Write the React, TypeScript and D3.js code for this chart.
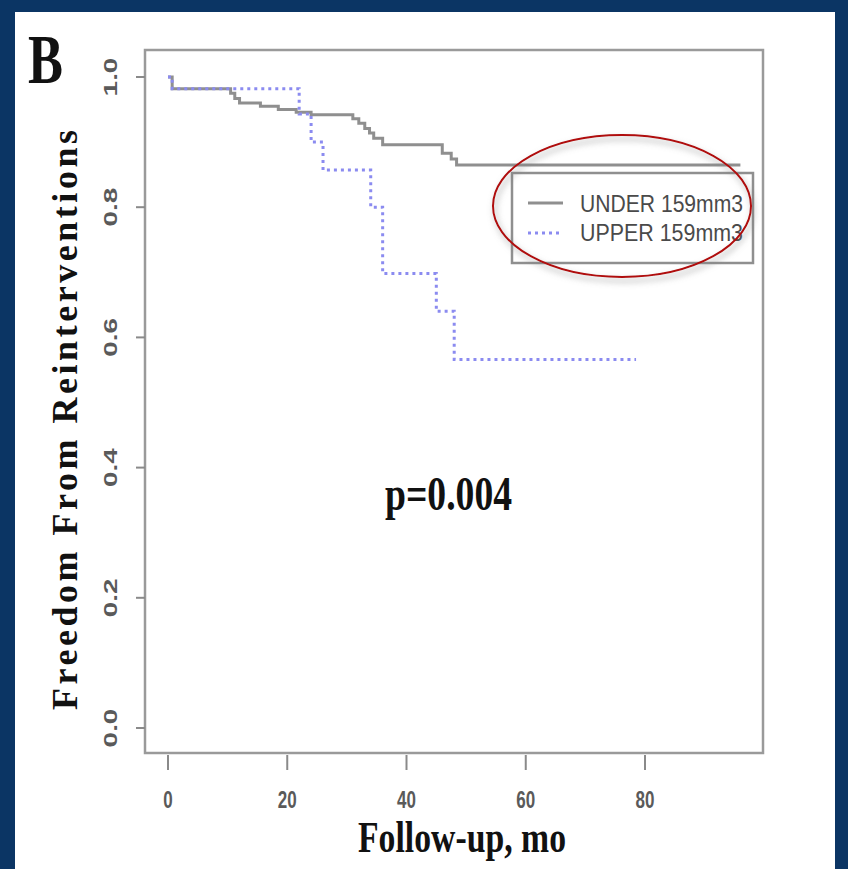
import React from 'react';
import * as d3 from 'd3';

// Kaplan-Meier steps (months, survival)
const underTimes = [0, 0.7, 10.5, 11.2, 12, 15.5, 18.5, 21.5, 24, 31, 32, 33, 33.8, 34.5, 36, 46, 47.5, 48.4, 96];
const underSurv = [1.0, 0.982, 0.975, 0.967, 0.96, 0.955, 0.95, 0.946, 0.942, 0.936, 0.929, 0.921, 0.914, 0.906, 0.896, 0.883, 0.874, 0.865, 0.865];

const upperTimes = [0, 0.7, 22, 24, 26, 34, 36, 45, 48, 78.5];
const upperSurv = [1.0, 0.982, 0.943, 0.9, 0.857, 0.8, 0.698, 0.64, 0.566, 0.566];

const xTicks = [0, 20, 40, 60, 80];
const yTicks = [0, 0.2, 0.4, 0.6, 0.8, 1.0];
const yTickLabels = ['0.0', '0.2', '0.4', '0.6', '0.8', '1.0'];

const legendLabels = ['UNDER 159mm3', 'UPPER 159mm3'];

const W = 848;
const H = 869;
const box = { left: 145, right: 763, top: 50, bottom: 753 };

const serif = '"Liberation Serif", "DejaVu Serif", serif';
const sans = '"Liberation Sans", Arial, sans-serif';

export default function App() {
  const x = d3.scaleLinear().domain([0, 80]).range([168, 645]);
  const y = d3.scaleLinear().domain([0, 1]).range([728, 77]);

  const line = d3
    .line<[number, number]>()
    .x(d => x(d[0]))
    .y(d => y(d[1]))
    .curve(d3.curveStepAfter);

  const underPath = line(underTimes.map((t, i) => [t, underSurv[i]]));
  const upperPath = line(upperTimes.map((t, i) => [t, upperSurv[i]]));

  const grey = '#8f8f8f';
  const blue = '#8b8bf0';

  return (
    <svg
      width={W}
      height={H}
      style={{ position: 'absolute', left: 0, top: 0, display: 'block' }}
    >
      <defs>
        <filter id="shadow" x="-20%" y="-20%" width="140%" height="140%">
          <feDropShadow dx="2" dy="4" stdDeviation="3" floodColor="#777" floodOpacity="0.7" />
        </filter>
      </defs>
      <rect x={0} y={0} width={W} height={H} fill="#0b3564" />
      <rect x={15} y={12} width={820} height={H - 12} fill="#ffffff" />

      {/* panel letter */}
      <text x={28} y={83} fontFamily={serif} fontWeight="bold" fontSize={70}
        textLength={35} lengthAdjust="spacingAndGlyphs" fill="#111">B</text>

      {/* plot frame */}
      <rect x={box.left} y={box.top} width={box.right - box.left} height={box.bottom - box.top}
        fill="none" stroke="#9a9a9a" strokeWidth={2.5} />

      {/* x axis ticks */}
      {xTicks.map(t => (
        <g key={'x' + t}>
          <line x1={x(t)} x2={x(t)} y1={box.bottom + 2} y2={box.bottom + 17} stroke="#8a8a8a" strokeWidth={2} />
          <text transform={`translate(${x(t)},808) scale(1,1.45)`} textAnchor="middle"
            fontFamily={sans} fontWeight="bold" fontSize={17} fill="#5a5a5a">{t}</text>
        </g>
      ))}

      {/* y axis ticks */}
      {yTicks.map((t, i) => (
        <g key={'y' + t}>
          <line x1={box.left - 9} x2={box.left} y1={y(t)} y2={y(t)} stroke="#8a8a8a" strokeWidth={2} />
          <text transform={`translate(117,${y(t)}) rotate(-90) scale(1.55,1)`} textAnchor="middle"
            fontFamily={sans} fontWeight="bold" fontSize={18} fill="#5a5a5a">{yTickLabels[i]}</text>
        </g>
      ))}

      {/* survival curves */}
      <path d={underPath ?? ''} fill="none" stroke={grey} strokeWidth={3} />
      <path d={upperPath ?? ''} fill="none" stroke={blue} strokeWidth={3} strokeDasharray="3,4" />

      {/* legend */}
      <rect x={512} y={173} width={241} height={90} fill="none" stroke="#8f8f8f" strokeWidth={2.5} />
      <line x1={528} x2={563} y1={203} y2={203} stroke={grey} strokeWidth={3} />
      <line x1={528} x2={563} y1={233} y2={233} stroke={blue} strokeWidth={3} strokeDasharray="3,4" />
      {legendLabels.map((l, i) => (
        <text key={l} x={580} y={212 + i * 29} fontFamily={sans} fontSize={23}
          textLength={163} lengthAdjust="spacingAndGlyphs" fill="#4a4a4a">{l}</text>
      ))}

      {/* red annotation ellipse */}
      <ellipse cx={622} cy={206} rx={129} ry={71} fill="none" stroke="#b00d0d" strokeWidth={2}
        filter="url(#shadow)" />

      {/* p value */}
      <text x={385} y={510} fontFamily={serif} fontWeight="bold" fontSize={48}
        textLength={127} lengthAdjust="spacingAndGlyphs" fill="#111">p=0.004</text>

      {/* axis titles */}
      <text x={358} y={852} fontFamily={serif} fontWeight="bold" fontSize={45}
        textLength={208} lengthAdjust="spacingAndGlyphs" fill="#111">Follow-up, mo</text>
      <text transform="translate(77,420) rotate(-90)" textAnchor="middle" fontFamily={serif}
        fontWeight="bold" fontSize={36} textLength={580} lengthAdjust="spacing" fill="#111">
        Freedom From Reinterventions
      </text>
    </svg>
  );
}
